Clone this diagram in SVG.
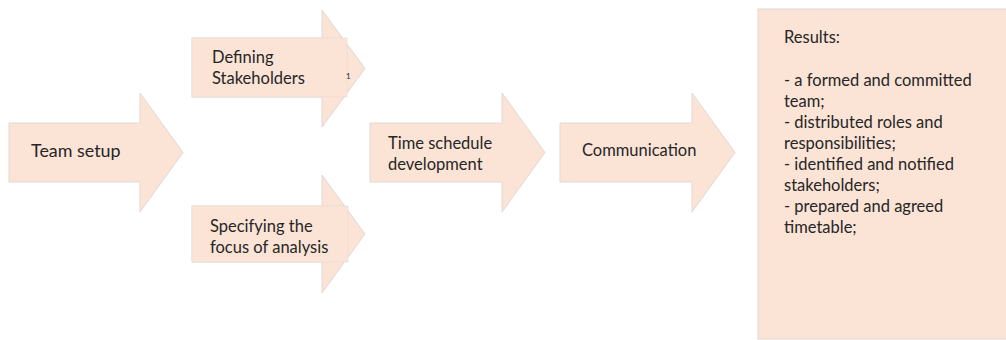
<svg xmlns="http://www.w3.org/2000/svg" width="1006" height="340" viewBox="0 0 1006 340">
  <style>
    .shape { fill: #FBE4D6; stroke: #E2D8D2; stroke-width: 1; }
    .frame { fill: #FBE4D6; stroke: #DDD8D5; stroke-width: 1; }
    .label { font-family: Lato, "Liberation Sans", sans-serif; font-size: 16.5px; fill: #262626; }
    .big { font-size: 17.9px; }
    .note { font-family: Lato, "Liberation Sans", sans-serif; font-size: 8px; fill: #262626; }
  </style>
  <rect width="1006" height="340" fill="#ffffff"/>

  <!-- step 1 -->
  <g id="team-setup">
    <polygon class="shape" points="9,123 140,123 140,93 183,152.5 140,212 140,182 9,182"/>
    <text class="label big" x="31" y="157">Team setup</text>
  </g>

  <!-- step 2a -->
  <g id="defining-stakeholders">
    <polygon class="shape" points="192,38 322,38 322,10 365,68.5 322,127 322,97 192,97"/>
    <rect class="frame" x="192" y="38" width="155" height="59" stroke-opacity="0.5"/>
    <text class="label" x="212" y="63">Defining</text>
    <text class="label" x="212" y="84">Stakeholders</text>
    <text class="note" x="346" y="79">1</text>
  </g>

  <!-- step 2b -->
  <g id="specifying-focus">
    <polygon class="shape" points="192,206 322,206 322,175 365,234 322,293 322,262 192,262"/>
    <rect class="frame" x="192" y="206" width="156" height="56" stroke-opacity="0.5"/>
    <text class="label" x="210" y="232">Specifying the</text>
    <text class="label" x="210" y="253">focus of analysis</text>
  </g>

  <!-- step 3 -->
  <g id="time-schedule">
    <polygon class="shape" points="370,123 502,123 502,93 545,152.5 502,212 502,182 370,182"/>
    <text class="label" x="388" y="149">Time schedule</text>
    <text class="label" x="388" y="170">development</text>
  </g>

  <!-- step 4 -->
  <g id="communication">
    <polygon class="shape" points="560,123 692,123 692,93 735,152.5 692,212 692,182 560,182"/>
    <text class="label" x="582" y="156">Communication</text>
  </g>

  <!-- outcome panel -->
  <g id="results">
    <rect class="frame" x="758" y="9" width="260" height="330"/>
    <text class="label" x="784" y="43">Results:</text>
    <text class="label" x="784" y="86">- a formed and committed</text>
    <text class="label" x="784" y="107">team;</text>
    <text class="label" x="784" y="128">- distributed roles and</text>
    <text class="label" x="784" y="149">responsibilities;</text>
    <text class="label" x="784" y="170">- identified and notified</text>
    <text class="label" x="784" y="191">stakeholders;</text>
    <text class="label" x="784" y="212">- prepared and agreed</text>
    <text class="label" x="784" y="233">timetable;</text>
  </g>

  <!-- flow is carried by the arrow shapes themselves -->
  <g id="connectors"/>
</svg>
